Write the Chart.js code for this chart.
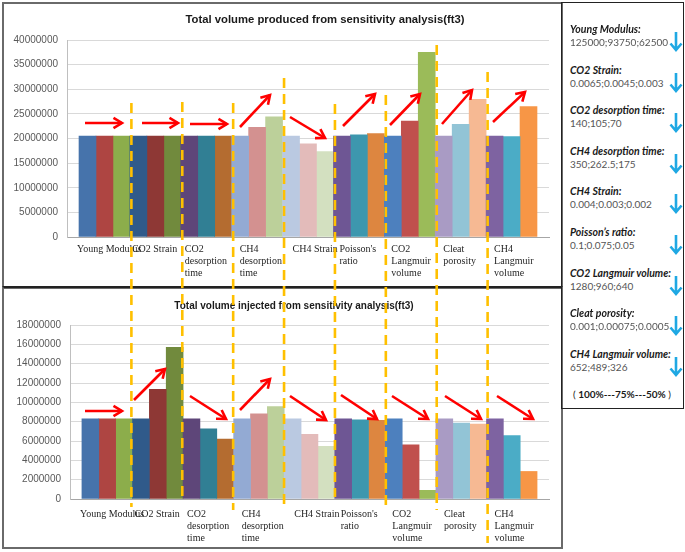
<!DOCTYPE html>
<html><head><meta charset="utf-8">
<script src="https://cdn.jsdelivr.net/npm/chart.js@4.4.1/dist/chart.umd.min.js"></script>
<style>
html,body{margin:0;padding:0;background:#fff;}
body{width:685px;height:552px;position:relative;overflow:hidden;font-family:"Liberation Sans",Arial,sans-serif;}
.box{position:absolute;box-sizing:border-box;}
canvas{position:absolute;}
.ttl{position:absolute;white-space:nowrap;font-weight:bold;color:#1a1a1a;transform:translate(-50%,-50%);line-height:1;}
#side .t{position:absolute;left:570px;font-family:Lato,"Liberation Sans",sans-serif;font-weight:bold;font-style:italic;font-size:10.5px;color:#1a1a1a;white-space:nowrap;line-height:1;transform:translateY(-50%);}
#side .v{position:absolute;left:570px;font-family:Lato,"Liberation Sans",sans-serif;font-size:10px;color:#555;white-space:nowrap;line-height:1;transform:translateY(-50%);}
#side svg{position:absolute;}
#foot{position:absolute;left:622px;top:394px;transform:translate(-50%,-50%);font-family:Lato,"Liberation Sans",sans-serif;font-size:10px;color:#1a1a1a;white-space:nowrap;line-height:1;}
#overlay{position:absolute;left:0;top:0;pointer-events:none;}
</style>
</head><body>
<div class="box" style="left:2px;top:2px;width:561px;height:287px;border:2px solid #6a6a6a;"></div>
<div class="box" style="left:2px;top:286px;width:561px;height:263px;border:2px solid #6a6a6a;border-top:2.5px solid #222;"></div>
<div class="box" style="left:561px;top:2px;width:123px;height:407px;border:1.5px solid #222;"></div>

<canvas id="c1" width="557" height="282" style="left:4px;top:4px;width:557px;height:282px;"></canvas>
<canvas id="c2" width="557" height="258" style="left:4px;top:289px;width:557px;height:258px;"></canvas>

<div class="ttl" id="t1" style="left:325px;top:20px;font-size:11.3px;">Total volume produced from sensitivity analysis(ft3)</div>
<div class="ttl" id="t2" style="left:294px;top:306px;font-size:10px;">Total volume injected from sensitivity analysis(ft3)</div>

<div id="side"></div>
<div id="foot">( <b>100%---75%---50%</b> )</div>
<svg id="overlay" width="685" height="552"></svg>

<script>
// ---------------- DATA ----------------
const categories = [
  'Young Modulus', 'CO2 Strain', ['CO2', 'desorption', 'time'], ['CH4', 'desorption', 'time'],
  'CH4 Strain', ["Poisson's", 'ratio'], ['CO2', 'Langmuir', 'volume'], ['Cleat', 'porosity'],
  ['CH4', 'Langmuir', 'volume']
];
// Total volume produced (ft3) at 100%, 75%, 50% of each parameter
const produced100 = [20500000, 20500000, 20500000, 20500000, 20500000, 20500000, 20500000, 20500000, 20500000];
const produced75  = [20500000, 20500000, 20500000, 22250000, 18900000, 20750000, 23550000, 22900000, 20400000];
const produced50  = [20500000, 20500000, 20500000, 24400000, 17350000, 21000000, 37500000, 27950000, 26500000];
// Total volume injected (ft3)
const injected100 = [8300000, 8300000, 8300000, 8300000, 8300000, 8300000, 8300000, 8300000, 8300000];
const injected75  = [8300000, 11350000, 7250000, 8800000, 6700000, 8200000, 5600000, 7850000, 6550000];
const injected50  = [8300000, 15700000, 6200000, 9550000, 5450000, 8150000, 900000, 7750000, 2850000];
// Axis tick labels
const producedTicks = [0, 5000000, 10000000, 15000000, 20000000, 25000000, 30000000, 35000000, 40000000];
const injectedTicks = [0, 2000000, 4000000, 6000000, 8000000, 10000000, 12000000, 14000000, 16000000, 18000000];
// Side panel text
const paramNames = ['Young Modulus:', 'CO2 Strain:', 'CO2 desorption time:', 'CH4 desorption time:', 'CH4 Strain:',
  'Poisson\u2019s ratio:', 'CO2 Langmuir volume:', 'Cleat porosity:', 'CH4 Langmuir volume:'];
const paramValues = ['125000;93750;62500', '0.0065;0.0045;0.003', '140;105;70', '350;262.5;175', '0.004;0.003;0.002',
  '0.1;0.075;0.05', '1280;960;640', '0.001;0.00075;0.0005', '652;489;326'];

// ---------------- STYLE ----------------
const groupColors = [
  ['#4673AB', '#AE4542', '#8CAD4B'],
  ['#305A8A', '#8E3835', '#718A3D'],
  ['#5E4679', '#317F94', '#B46C30'],
  ['#93AAD3', '#D39190', '#BCD09A'],
  ['#BAC9E1', '#E3BBBA', '#D3E0C0'],
  ['#6E5694', '#3D97AE', '#DD8640'],
  ['#4D80BE', '#C0504D', '#9BBB59'],
  ['#A99BC4', '#92C4D6', '#F6B993'],
  ['#7E63A1', '#4BACC6', '#F79646']
];
const labelOffsets = [-2, 2, 4, 8, 10, 6, 7, 8, 8];
const EDGE = 0.236;

const xLabelPlugin = {
  id: 'xlabels',
  afterDraw(chart, args, opts) {
    const ctx = chart.ctx, xs = chart.scales.x;
    ctx.save();
    ctx.font = '10px "Liberation Serif", serif';
    ctx.fillStyle = '#262626';
    ctx.textBaseline = 'middle';
    ctx.textAlign = 'left';
    categories.forEach((c, i) => {
      const lines = Array.isArray(c) ? c : [c];
      const left = xs.getPixelForValue(i - 0.5) + labelOffsets[i];
      lines.forEach((t, j) => ctx.fillText(t, left, chart.chartArea.bottom + opts.dy + j * 12));
    });
    ctx.restore();
  }
};

function makeChart(id, series, ticks, yMax, yWidth, pad, dy) {
  return new Chart(document.getElementById(id), {
    type: 'bar',
    data: {
      datasets: series.map((vals, k) => ({
        data: vals.map((v, i) => ({x: i, y: v})),
        backgroundColor: groupColors.map(g => g[k]),
        borderWidth: 0,
        categoryPercentage: 1,
        barPercentage: 1
      }))
    },
    options: {
      responsive: false, animation: false, devicePixelRatio: 1,
      layout: {padding: pad},
      plugins: {legend: {display: false}, title: {display: false}, tooltip: {enabled: false}, xlabels: {dy: dy}},
      scales: {
        x: {
          type: 'linear', min: -0.5 - EDGE, max: categories.length - 0.5 + EDGE, offset: false,
          ticks: {display: false}, grid: {display: false, drawTicks: false},
          border: {display: true, color: '#a6a6a6', width: 1},
          afterBuildTicks: s => { s.ticks = categories.map((c, i) => ({value: i})); },
          afterFit: s => { s.height = 0; }
        },
        y: {
          min: 0, max: yMax,
          afterBuildTicks: s => { s.ticks = ticks.map(v => ({value: v})); },
          ticks: {color: '#595959', font: {family: '"Liberation Sans", Arial', size: 10}, padding: 9, callback: v => String(v)},
          grid: {color: '#d9d9d9', drawTicks: false, lineWidth: 1},
          border: {display: true, color: '#bfbfbf'},
          afterFit: s => { s.width = yWidth; }
        }
      }
    },
    plugins: [xLabelPlugin]
  });
}

const chart1 = makeChart('c1', [produced100, produced75, produced50], producedTicks, 40000000, 63,
  {left: 0, right: 12, top: 36, bottom: 49}, 12);
const chart2 = makeChart('c2', [injected100, injected75, injected50], injectedTicks, 18000000, 66,
  {left: 0, right: 12, top: 36, bottom: 48}, 15);

// ---------------- SIDE PANEL ----------------
const side = document.getElementById('side');
const NS = 'http://www.w3.org/2000/svg';
paramNames.forEach((n, i) => {
  const yc = 29 + i * 40.6;
  const t = document.createElement('div'); t.className = 't'; t.style.top = yc + 'px'; t.textContent = n; side.appendChild(t);
  const v = document.createElement('div'); v.className = 'v'; v.style.top = (yc + 13) + 'px'; v.textContent = paramValues[i]; side.appendChild(v);
  const s = document.createElementNS(NS, 'svg');
  s.setAttribute('width', 14); s.setAttribute('height', 22);
  s.style.left = '669px'; s.style.top = (yc + 2) + 'px';
  s.innerHTML = '<path d="M7 1 L7 19 M1.5 12.5 L7 19 L12.5 12.5" stroke="#1FA8E3" stroke-width="2.6" fill="none" stroke-linejoin="miter"/>';
  side.appendChild(s);
});

// ---------------- OVERLAY (dashed separators + trend arrows) ----------------
const ov = document.getElementById('overlay');
const xs1 = chart1.scales.x;
const dashTops = [103, 102, 103, 78, 104, 95, 45, 72];
const dashBottoms = [507, 497, 510, 510, 497, 510, 510, 543];
let svg = '';
for (let i = 0; i < categories.length - 1; i++) {
  const x = 4 + xs1.getPixelForValue(i + 0.5) + 1.5;
  svg += `<line x1="${x}" y1="${dashTops[i]}" x2="${x}" y2="${dashBottoms[i]}" stroke="#FFC000" stroke-width="2.6" stroke-dasharray="10 6"/>`;
}
const arrows = [
  [85, 123, 122, 123], [142, 123, 178, 123], [190, 124, 227, 124], [240, 127, 270, 95], [290, 117, 325, 138],
  [343, 126, 375, 94], [390, 125, 420, 94], [442, 124, 472, 90], [493, 122, 525, 92],
  [85, 411, 122, 411], [134, 400, 165, 369], [190, 396, 226, 419], [240, 410, 270, 379], [290, 396, 326, 420],
  [341, 395, 377, 419], [392, 396, 428, 419], [445, 396, 481, 419], [497, 396, 533, 419]
];
arrows.forEach(([x1, y1, x2, y2]) => {
  const a = Math.atan2(y2 - y1, x2 - x1), L = 10, w = 0.55;
  const p1 = [x2 - L * Math.cos(a - w), y2 - L * Math.sin(a - w)];
  const p2 = [x2 - L * Math.cos(a + w), y2 - L * Math.sin(a + w)];
  svg += `<line x1="${x1}" y1="${y1}" x2="${x2}" y2="${y2}" stroke="#FF0000" stroke-width="2.6"/>`;
  svg += `<polyline points="${p1[0]},${p1[1]} ${x2},${y2} ${p2[0]},${p2[1]}" stroke="#FF0000" stroke-width="2.6" fill="none"/>`;
});
ov.innerHTML = svg;
</script>
</body></html>
